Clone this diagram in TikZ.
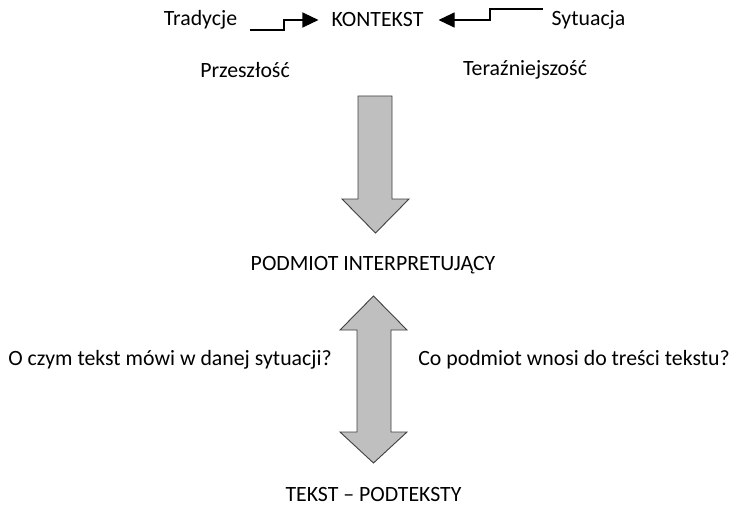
\documentclass[tikz,border=0pt]{standalone}
\usepackage{fontspec}
\setmainfont{Carlito}
\usetikzlibrary{arrows.meta}
\begin{document}
\begin{tikzpicture}[x=1pt,y=-1pt,
  label/.style={inner sep=0pt,font=\fontsize{21.8}{26}\selectfont},
  link/.style={line width=1.1pt,-{Triangle[length=16pt,width=15pt]}},
  blockarrow/.style={fill=black!25,draw=black!75,line width=0.9pt,line join=miter}]
\useasboundingbox (0,0) rectangle (735,505);

% texts
\node[label] (trad) at (200.5,20) {Tradycje};
\node[label] (kont) at (377.5,20) {KONTEKST};
\node[label] (syt)  at (588.5,20) {Sytuacja};
\node[label] (prz)  at (245,70) {Przeszłość};
\node[label] (ter)  at (525,70) {Teraźniejszość};
\node[label] (pod)  at (373,265) {PODMIOT INTERPRETUJĄCY};
\node[label] (ocz)  at (170,360) {O czym tekst mówi w danej sytuacji?};
\node[label] (cop)  at (574,360) {Co podmiot wnosi do treści tekstu?};
\node[label] (tek)  at (373.5,494) {TEKST – PODTEKSTY};

% stepped links into the context
\coordinate (tradstart) at (250,30);
\coordinate (sytstart) at (543,9);
\draw[link] (tradstart) -- (284,30) -- (284,20) -- ([xshift=-13pt]kont.west |- 0,20);
\draw[link] (sytstart) -- (490,9) -- (490,20) -- ([xshift=15pt]kont.east |- 0,20);

% block arrow from context down to the subject
\draw[blockarrow] (358,96) -- (392,96) -- (392,199) -- (409,199) -- (375.5,233)
  -- (342,199) -- (358,199) -- cycle;

% double block arrow between subject and text
\draw[blockarrow] (373.5,296) -- (407,330) -- (391,330) -- (391,432) -- (407,432)
  -- (373.5,463) -- (340,432) -- (357,432) -- (357,330) -- (340,330) -- cycle;
\end{tikzpicture}
\end{document}
